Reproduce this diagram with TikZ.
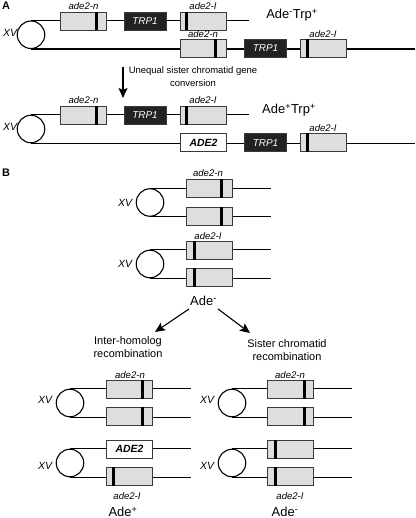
\documentclass[tikz,border=0pt]{standalone}
\usepackage{fontspec}
\setmainfont{Liberation Sans}
\usetikzlibrary{calc,arrows.meta}
\definecolor{boxfill}{HTML}{DEDEDE}
\definecolor{boxline}{HTML}{3A3A3A}
\definecolor{trpfill}{HTML}{222222}
\tikzset{
  gbox/.style={draw=boxline, fill=boxfill, line width=0.9bp, minimum width=46bp, minimum height=18bp, inner sep=0pt},
  wbox/.style={draw=boxline, fill=white, line width=0.9bp, minimum width=46bp, minimum height=18bp, inner sep=0pt, font=\fontsize{10.5}{12}\selectfont\bfseries\itshape},
  trpbox/.style={draw=boxline, fill=trpfill, line width=0.9bp, minimum width=42bp, minimum height=18bp, inner sep=0pt, text=white, font=\fontsize{10}{11}\selectfont\itshape},
  chrom/.style={line width=1.1bp, black},
  cen/.style={circle, draw, line width=1.1bp, minimum size=27.5bp, inner sep=0pt},
  glabel/.style={font=\fontsize{9.6}{10}\selectfont\itshape, inner sep=0pt},
  xvlabel/.style={font=\fontsize{10.5}{11}\selectfont\itshape, inner sep=0pt},
  pheno/.style={font=\fontsize{13}{14}\selectfont, inner sep=0pt},
  btext/.style={font=\fontsize{11}{13}\selectfont, align=center, inner sep=0pt},
  atext/.style={font=\fontsize{9.5}{12.5}\selectfont, align=center, inner sep=0pt},
  panel/.style={font=\fontsize{11}{12}\selectfont\bfseries, inner sep=0pt},
  arr/.style={line width=1.1bp, -{Stealth[length=10bp,width=9bp,inset=2bp]}},
}
\newcommand\genebox[4]{%
  \node[gbox] (#1) at (#2,#3) {};
  \fill[black] ($(#1.north west)!#4!(#1.north east)+(-1.6,0)$) rectangle ($(#1.south west)!#4!(#1.south east)+(1.6,0)$);
}
\begin{document}
\begin{tikzpicture}[x=1bp,y=-1bp]
\useasboundingbox (0,0) rectangle (415,518);

% ---------------- Panel A ----------------
\node[panel] (pA) at (6,6) {A};

% group 1
\node[cen] (a1c) at (31,34.75) {};
\node[xvlabel] (a1xv) at (10,33) {XV};
\coordinate (a1e1) at (249,21);
\coordinate (a1e2) at (415,48.5);
\draw[chrom] (a1c.north) -- (a1c.north -| a1e1);
\draw[chrom] (a1c.south) -- (a1c.south -| a1e2);
\genebox{a1n}{83.5}{21}{0.77}
\node[trpbox] (a1t) at (145,21) {TRP1};
\genebox{a1l}{203}{21}{0.15}
\node[glabel] (a1nl) at (83.5,6) {ade2-n};
\node[glabel] (a1ll) at (203,6) {ade2-I};
\node[pheno] (a1p) at (292,15) {Ade\textsuperscript{-}Trp\textsuperscript{+}};
\genebox{a1n2}{203}{48.5}{0.76}
\node[trpbox] (a1t2) at (265.5,48.5) {TRP1};
\genebox{a1l2}{323}{48.5}{0.17}
\node[glabel] (a1nl2) at (203,34) {ade2-n};
\node[glabel] (a1ll2) at (323,34) {ade2-I};

% arrow
\coordinate (aas) at (123,67);
\coordinate (aae) at (123,98);
\draw[arr] (aas) -- (aae);
\node[atext] (aat) at (193,76.5) {Unequal sister chromatid gene\\conversion};

% group 2
\node[cen] (a2c) at (31,129) {};
\node[xvlabel] (a2xv) at (10,127) {XV};
\coordinate (a2e1) at (249,115);
\coordinate (a2e2) at (415,143);
\draw[chrom] (a2c.north) -- (a2c.north -| a2e1);
\draw[chrom] (a2c.south) -- (a2c.south -| a2e2);
\genebox{a2n}{83.5}{115.25}{0.77}
\node[trpbox] (a2t) at (145,115.25) {TRP1};
\genebox{a2l}{203}{115.25}{0.15}
\node[glabel] (a2nl) at (83.5,100) {ade2-n};
\node[glabel] (a2ll) at (203,100) {ade2-I};
\node[pheno] (a2p) at (289,110) {Ade\textsuperscript{+}Trp\textsuperscript{+}};
\node[wbox] (a2a) at (203.5,142.75) {ADE2};
\node[trpbox] (a2t2) at (265.5,142.75) {TRP1};
\genebox{a2l2}{323}{142.75}{0.17}
\node[glabel] (a2ll2) at (323,128) {ade2-I};

% ---------------- Panel B ----------------
\node[panel] (pB) at (6,173) {B};

% B1
\node[cen] (b1c) at (150,202.5) {};
\node[xvlabel] (b1xv) at (125,203) {XV};
\coordinate (b1e) at (271,0);
\draw[chrom] (b1c.north) -- (b1c.north -| b1e);
\draw[chrom] (b1c.south) -- (b1c.south -| b1e);
\genebox{b1n}{209}{188.75}{0.77}
\genebox{b1n2}{209}{216.25}{0.77}
\node[glabel] (b1nl) at (208,173.5) {ade2-n};

% B2
\node[cen] (b2c) at (150,264) {};
\node[xvlabel] (b2xv) at (125,264) {XV};
\draw[chrom] (b2c.north) -- (b2c.north -| b1e);
\draw[chrom] (b2c.south) -- (b2c.south -| b1e);
\genebox{b2l}{209}{250.25}{0.185}
\genebox{b2l2}{209}{277.75}{0.185}
\node[glabel] (b2ll) at (208,236) {ade2-I};

\node[pheno] (bade) at (203.5,301) {Ade\textsuperscript{-}};
\draw[arr] ($(bade.south west)+(-1,3)$) -- (155,332);
\draw[arr] ($(bade.south east)+(1,3)$) -- (250,333);
\node[btext] (bih) at (128,347) {Inter-homolog\\recombination};
\node[btext] (bsc) at (287,350) {Sister chromatid\\recombination};

% C left 1
\node[cen] (c1c) at (70,403) {};
\node[xvlabel] (c1xv) at (45,400) {XV};
\coordinate (cle) at (191,0);
\draw[chrom] (c1c.north) -- (c1c.north -| cle);
\draw[chrom] (c1c.south) -- (c1c.south -| cle);
\genebox{c1n}{129.5}{389.25}{0.77}
\genebox{c1n2}{129.5}{416.75}{0.77}
\node[glabel] (c1nl) at (130,375) {ade2-n};

% C left 2
\node[cen] (c2c) at (70,463) {};
\node[xvlabel] (c2xv) at (45,466) {XV};
\draw[chrom] (c2c.north) -- (c2c.north -| cle);
\draw[chrom] (c2c.south) -- (c2c.south -| cle);
\node[wbox] (c2a) at (129.5,449.25) {ADE2};
\genebox{c2l}{129.5}{476.75}{0.155}
\node[glabel] (c2ll) at (127,496) {ade2-I};
\node[pheno] (c2p) at (123,512) {Ade\textsuperscript{+}};

% C right 1
\node[cen] (d1c) at (232,403) {};
\node[xvlabel] (d1xv) at (207,400) {XV};
\coordinate (dre) at (352,0);
\draw[chrom] (d1c.north) -- (d1c.north -| dre);
\draw[chrom] (d1c.south) -- (d1c.south -| dre);
\genebox{d1n}{290.5}{389.25}{0.79}
\genebox{d1n2}{290.5}{416.75}{0.79}
\node[glabel] (d1nl) at (290,375) {ade2-n};

% C right 2
\node[cen] (d2c) at (232,463) {};
\node[xvlabel] (d2xv) at (207,466) {XV};
\draw[chrom] (d2c.north) -- (d2c.north -| dre);
\draw[chrom] (d2c.south) -- (d2c.south -| dre);
\genebox{d2l}{290.5}{449.25}{0.18}
\genebox{d2l2}{290.5}{476.75}{0.18}
\node[glabel] (d2ll) at (290,496) {ade2-I};
\node[pheno] (d2p) at (285,512) {Ade\textsuperscript{-}};
\end{tikzpicture}
\end{document}
